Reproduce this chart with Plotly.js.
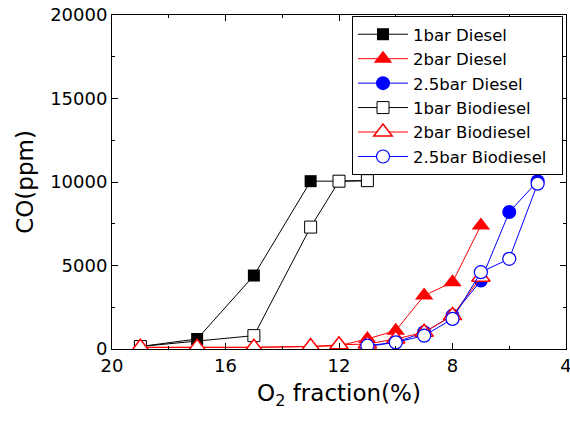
<!DOCTYPE html>
<html>
<head>
<meta charset="utf-8">
<script src="https://cdn.plot.ly/plotly-3.0.1.min.js"></script>
<style>html,body{margin:0;padding:0;background:#fff;}#chart{width:570px;height:426px;}</style>
</head>
<body>
<div id="chart"></div>
<script>
// O2 fraction (%) and CO (ppm) per series
const x1barDiesel = [19, 17, 15, 13, 12, 11];
const y1barDiesel = [150, 600, 4400, 10050, 10050, 10080];
const x2barDiesel = [19, 17, 15, 13, 12, 11, 10, 9, 8, 7];
const y2barDiesel = [100, 100, 100, 150, 200, 600, 1100, 3200, 4000, 7400];
const x25barDiesel = [11, 10, 9, 8, 7, 6, 5];
const y25barDiesel = [150, 400, 1000, 2000, 4100, 8200, 10050];
const x1barBio = [19, 15, 13, 12, 11];
const y1barBio = [150, 800, 7300, 10050, 10080];
const x2barBio = [19, 17, 15, 13, 12, 11, 10, 9, 8, 7];
const y2barBio = [100, 100, 100, 150, 250, 300, 600, 1000, 2000, 4300];
const x25barBio = [11, 10, 9, 8, 7, 6, 5];
const y25barBio = [200, 400, 800, 1800, 4600, 5400, 9900];

const seriesNames = ['1bar Diesel', '2bar Diesel', '2.5bar Diesel', '1bar Biodiesel', '2bar Biodiesel', '2.5bar Biodiesel'];
const xTickVals = [20, 16, 12, 8, 4];
const yTickVals = [0, 5000, 10000, 15000, 20000];

const FONT = 'DejaVu Sans, Arial, sans-serif';
const PAD = '\u00a0\u00a0';

function tr(x, y, name, color, symbol, filled, size, lw) {
  return {
    x: x, y: y, name: name + PAD, type: 'scatter', mode: 'lines+markers',
    line: {color: color, width: 1},
    marker: {
      symbol: symbol, size: size,
      color: filled ? color : '#ffffff',
      line: {color: color, width: filled ? 0 : lw}
    }
  };
}

const data = [
  tr(x1barDiesel, y1barDiesel, seriesNames[0], '#000000', 'square', true, 12, 1),
  tr(x2barDiesel, y2barDiesel, seriesNames[1], '#ff0000', 'triangle-up', true, 16, 1.5),
  tr(x25barDiesel, y25barDiesel, seriesNames[2], '#0000ff', 'circle', true, 14, 1.5),
  tr(x1barBio, y1barBio, seriesNames[3], '#000000', 'square', false, 12, 1),
  tr(x2barBio, y2barBio, seriesNames[4], '#ff0000', 'triangle-up', false, 16, 1.5),
  tr(x25barBio, y25barBio, seriesNames[5], '#0000ff', 'circle', false, 13, 1.2)
];

const axisCommon = {
  showline: true, linecolor: '#000', linewidth: 1, mirror: 'allticks',
  ticks: 'inside', ticklen: 6, tickwidth: 1, tickcolor: '#000',
  showgrid: false, zeroline: false,
  tickfont: {family: FONT, size: 18, color: '#000'},
  tickformat: 'd', ticklabeloverflow: 'allow'
};

const layout = {
  width: 570, height: 426,
  margin: {l: 112, r: 4, t: 15, b: 77},
  paper_bgcolor: '#fff', plot_bgcolor: '#fff',
  font: {family: FONT, color: '#000'},
  showlegend: true,
  xaxis: Object.assign({}, axisCommon, {
    range: [20, 4], tickmode: 'array', tickvals: xTickVals,
    minor: {tickmode: 'array', tickvals: [18, 14, 10, 6], ticks: 'inside', ticklen: 3, tickcolor: '#000', showgrid: false},
    title: {text: 'O<sub>2</sub> fraction(%)', font: {family: FONT, size: 23, color: '#000'}, standoff: 10}
  }),
  yaxis: Object.assign({}, axisCommon, {
    range: [0, 20000], tickmode: 'array', tickvals: yTickVals,
    minor: {tickmode: 'array', tickvals: [2500, 7500, 12500, 17500], ticks: 'inside', ticklen: 3, tickcolor: '#000', showgrid: false},
    title: {text: 'CO(ppm)', font: {family: FONT, size: 23, color: '#000'}, standoff: 10}
  }),
  legend: {
    x: 0.9934, y: 0.997, xanchor: 'right', yanchor: 'top',
    bgcolor: '#fff', bordercolor: '#000', borderwidth: 1,
    font: {family: FONT, size: 16.5, color: '#000'},
    itemwidth: 50, tracegroupgap: 0
  }
};

Plotly.newPlot('chart', data, layout, {staticPlot: true, displayModeBar: false});
</script>
</body>
</html>
